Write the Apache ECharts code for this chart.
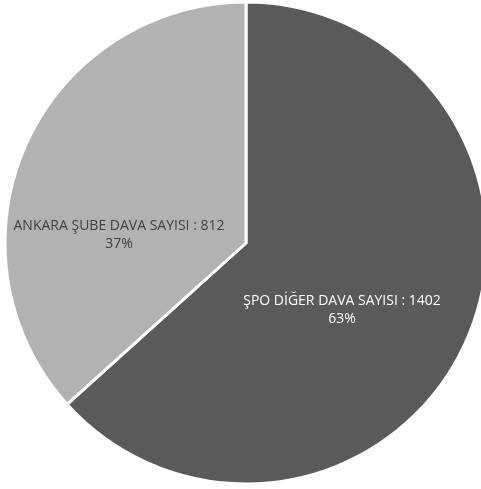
<!DOCTYPE html>
<html><head><meta charset="utf-8">
<script src="https://cdn.jsdelivr.net/npm/echarts@6/dist/echarts.min.js"></script>
<style>html,body{margin:0;padding:0;background:#fff}#c{width:481px;height:489px}</style>
</head><body><div id="c"></div>
<script>
var categories = ['ŞPO DİĞER DAVA SAYISI', 'ANKARA ŞUBE DAVA SAYISI'];
var values = [1402, 812];
var colors = ['#5a5a5a', '#b2b2b2'];
var labelColors = ['#ffffff', '#404040'];
var labelPos = [[342, 310], [119, 235]];

var chart = echarts.init(document.getElementById('c'), null, {renderer: 'canvas'});
chart.setOption({
  animation: false,
  series: [{
    type: 'pie',
    center: [246, 243],
    radius: [0, 241],
    startAngle: 90,
    clockwise: true,
    data: categories.map(function (c, i) {
      return {
        name: c, value: values[i],
        itemStyle: {color: colors[i]},
        label: {color: labelColors[i]}
      };
    }),
    itemStyle: {borderColor: '#ffffff', borderWidth: 3},
    label: {
      show: true,
      position: 'inside',
      fontFamily: 'Open Sans',
      fontSize: 14,
      lineHeight: 18,
      align: 'center',
      formatter: function (p) { return p.name + ' : ' + p.value + '\n' + Math.round(p.percent) + '%'; }
    },
    labelLayout: function (p) {
      return {x: labelPos[p.dataIndex][0], y: labelPos[p.dataIndex][1], align: 'center', verticalAlign: 'middle'};
    },
    labelLine: {show: false}
  }]
});
</script></body></html>
